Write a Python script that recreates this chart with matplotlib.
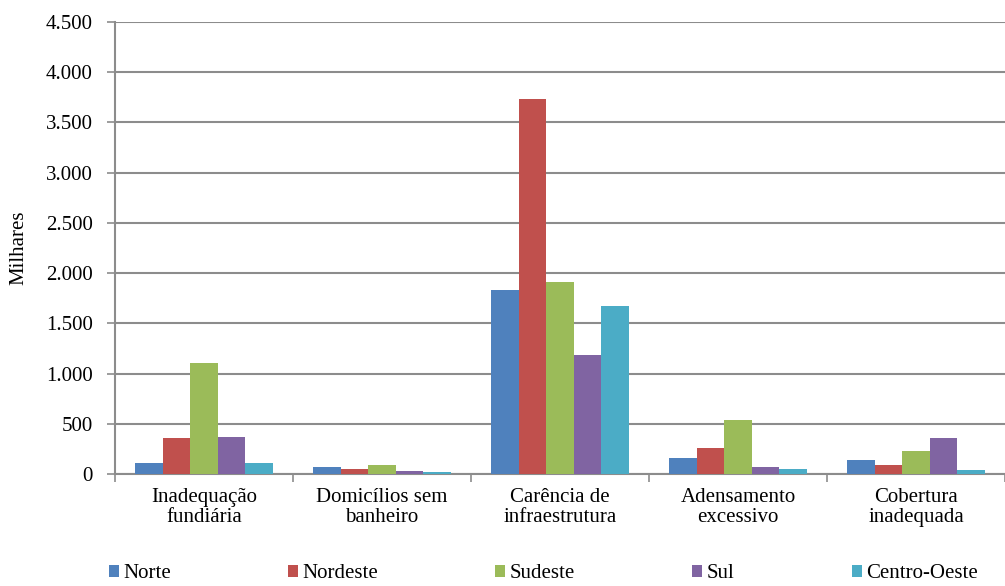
import numpy as np
import matplotlib
matplotlib.use("Agg")
import matplotlib.pyplot as plt
from matplotlib.ticker import FuncFormatter

# categorias e valores (milhares de domicílios)
categorias = ["Inadequação\nfundiária", "Domicílios sem\nbanheiro", "Carência de\ninfraestrutura",
              "Adensamento\nexcessivo", "Cobertura\ninadequada"]
regioes = ["Norte", "Nordeste", "Sudeste", "Sul", "Centro-Oeste"]
norte = [107, 73, 1835, 163, 140]
nordeste = [363, 53, 3735, 260, 87]
sudeste = [1105, 93, 1910, 537, 227]
sul = [373, 33, 1185, 67, 363]
centro_oeste = [113, 20, 1670, 47, 40]
series = [norte, nordeste, sudeste, sul, centro_oeste]
cores = ["#4f81bd", "#c0504d", "#9bbb59", "#8064a2", "#4bacc6"]

plt.rcParams["font.family"] = ["Liberation Serif", "DejaVu Serif"]
fs = 15

fig = plt.figure(figsize=(10.05, 5.86), dpi=100)
ax = fig.add_axes([115 / 1005, 1 - 474 / 586, 890 / 1005, 452 / 586])

x = np.arange(len(categorias))
w = 0.155
barras = []
for i, (nome, vals) in enumerate(zip(regioes, series)):
    b = ax.bar(x + (i - 2) * w, vals, w, color=cores[i], label=nome, zorder=3)
    barras.append(b)

ax.set_xlim(-0.5, len(categorias) - 0.5)
ax.set_ylim(0, 4500)
ax.set_yticks(np.arange(0, 4501, 500))
ax.yaxis.set_major_formatter(FuncFormatter(lambda v, p: f"{int(v):,}".replace(",", ".")))
ax.grid(axis="y", color="#8c8c8c", linewidth=1.5, zorder=0)

ax.set_xticks(x)
ax.set_xticklabels(categorias, fontsize=fs, linespacing=1.1)
ax.set_xticks(np.arange(-0.5, len(categorias)), minor=True)
ax.tick_params(axis="x", which="major", length=0, pad=10)
ax.tick_params(axis="x", which="minor", length=6, color="#8c8c8c", width=1.2)
ax.tick_params(axis="y", labelsize=fs, length=6, color="#8c8c8c", width=1.2, pad=10)

for s in ["top", "right"]:
    ax.spines[s].set_visible(False)
for s in ["left", "bottom"]:
    ax.spines[s].set_color("#8c8c8c")
    ax.spines[s].set_linewidth(1.5)

ax.set_ylabel("Milhares", fontsize=fs)
ax.yaxis.set_label_coords((28 - 115) / 890, 0.5)

# legenda: uma entrada por vez, posições
leg_x = [109, 288, 495, 692, 852]
for b, nome, lx in zip(barras, regioes, leg_x):
    fig.legend(handles=[b], labels=[nome], loc="center left",
               bbox_to_anchor=(lx / 1005, 1 - 574 / 586), frameon=False,
               fontsize=fs, handlelength=0.5, handleheight=0.5, handletextpad=0.2,
               borderpad=0, borderaxespad=0)

fig.savefig("out.png", dpi=100)
